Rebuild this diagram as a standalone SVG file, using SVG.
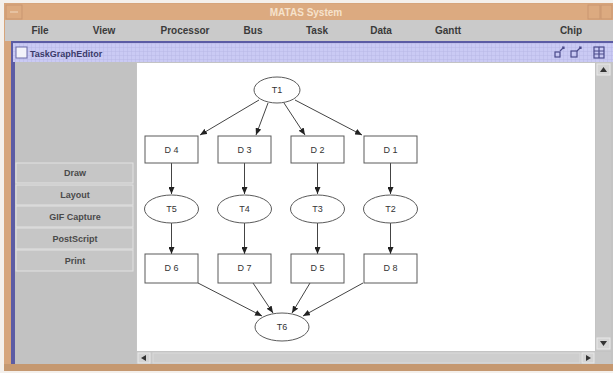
<svg xmlns="http://www.w3.org/2000/svg" width="613" height="373" viewBox="0 0 613 373">
<defs>
<style>
.menu{font-family:"Liberation Sans",Arial,sans-serif;font-size:10px;font-weight:bold;fill:#3a3a3a;text-anchor:middle}
.btn{font-family:"Liberation Sans",Arial,sans-serif;font-size:9px;font-weight:bold;fill:#4a4a4a;text-anchor:middle}
.btnbox{fill:#c6c6c6;stroke:#e2e2e2;stroke-width:1}
.node{fill:#ffffff;stroke:#5a5a5a;stroke-width:1}
.lbl{font-family:"Liberation Sans",Arial,sans-serif;font-size:9px;fill:#333;text-anchor:middle}
.edge{stroke:#444;stroke-width:1;fill:none;marker-end:url(#arr)}
</style>
<marker id="arr" markerWidth="7" markerHeight="6" refX="7" refY="3" orient="auto" markerUnits="userSpaceOnUse">
<path d="M0,0 L7,3 L0,6 Z" fill="#222"/>
</marker>
<pattern id="grid" width="4" height="4" patternUnits="userSpaceOnUse">
<rect width="4" height="4" fill="#cacaf4"/>
<path d="M4,0 V4 M0,4 H4" stroke="#b8b8e6" stroke-width="1"/>
</pattern>
</defs>
<rect width="613" height="373" fill="#f4f0ec"/>
<!-- window frame -->
<rect x="4" y="3" width="609" height="368" fill="#d6a57c"/>
<rect x="5" y="4" width="608" height="16" fill="#dcaa80"/>
<text x="306" y="16" font-family="Liberation Sans,Arial,sans-serif" font-size="10" font-weight="bold" fill="#f6e2cc" text-anchor="middle">MATAS System</text>
<rect x="6" y="5" width="16" height="14" fill="none" stroke="#c99670"/>
<line x1="10" y1="12" x2="18" y2="12" stroke="#f0d8c0"/>
<rect x="588" y="5" width="12" height="14" fill="none" stroke="#c99670"/>
<rect x="601" y="5" width="11" height="14" fill="none" stroke="#c99670"/>
<!-- menu bar -->
<rect x="5" y="20" width="608" height="21" fill="#cacaca"/>
<text class="menu" x="40" y="34">File</text>
<text class="menu" x="104" y="34">View</text>
<text class="menu" x="185" y="34">Processor</text>
<text class="menu" x="253" y="34">Bus</text>
<text class="menu" x="317" y="34">Task</text>
<text class="menu" x="381" y="34">Data</text>
<text class="menu" x="448" y="34">Gantt</text>
<text class="menu" x="571" y="34">Chip</text>
<!-- internal frame -->
<rect x="11" y="41" width="602" height="324" fill="#5c5ca4"/>
<rect x="13" y="43" width="600" height="19" fill="url(#grid)"/>
<rect x="16" y="47" width="11" height="11" fill="#f2f2fa" stroke="#6a6aa8"/>
<text x="30" y="57" font-family="Liberation Sans,Arial,sans-serif" font-size="9" font-weight="bold" fill="#3a3a6a">TaskGraphEditor</text>
<g fill="none" stroke="#4a4a8a" stroke-width="1.2">
<rect x="555" y="52" width="5" height="5"/><path d="M560,51 L564,47 M562,47 H564 V49"/>
<rect x="571" y="51" width="6" height="6"/><path d="M577,51 L581,47 M579,47 H581 V49"/>
<rect x="594" y="47" width="10" height="11"/><path d="M594,51 H604 M594,54 H604 M599,47 V58"/>
</g>
<!-- left panel -->
<rect x="15" y="62" width="598" height="303" fill="#c4c4c4"/>
<rect x="15" y="62" width="121" height="303" fill="#c2c2c2"/>
<g id="buttons">
<rect class="btnbox" x="16" y="163" width="117" height="20"/>
<text class="btn" x="75" y="176">Draw</text>
<rect class="btnbox" x="16" y="185" width="117" height="20"/>
<text class="btn" x="75" y="198">Layout</text>
<rect class="btnbox" x="16" y="206" width="117" height="21"/>
<text class="btn" x="75" y="220">GIF Capture</text>
<rect class="btnbox" x="16" y="228" width="117" height="21"/>
<text class="btn" x="75" y="242">PostScript</text>
<rect class="btnbox" x="16" y="250" width="117" height="21"/>
<text class="btn" x="75" y="264">Print</text>
</g>
<!-- canvas -->
<rect x="137" y="63" width="458" height="288" fill="#ffffff"/>
<!-- vertical scrollbar -->
<rect x="596" y="63" width="15" height="288" fill="#c8c8c8"/>
<rect x="597" y="64" width="13" height="11" fill="#d4d4d4" stroke="#e8e8e8"/>
<path d="M600,72 L603.5,67 L607,72 Z" fill="#333"/>
<rect x="597" y="338" width="13" height="11" fill="#d4d4d4" stroke="#e8e8e8"/>
<path d="M600,341 L603.5,346 L607,341 Z" fill="#333"/>
<!-- horizontal scrollbar -->
<rect x="137" y="352" width="474" height="12" fill="#c8c8c8"/>
<rect x="138" y="353" width="12" height="10" fill="#d4d4d4" stroke="#e8e8e8"/>
<path d="M146,355 L141,358 L146,361 Z" fill="#333"/>
<rect x="153" y="353" width="427" height="10" fill="#cecece" stroke="#dadada"/>
<rect x="582" y="353" width="12" height="10" fill="#d4d4d4" stroke="#e8e8e8"/>
<path d="M586,355 L591,358 L586,361 Z" fill="#333"/>
<rect x="4" y="364" width="609" height="7" fill="#c59870"/>

<g id="connectors">
<path class="edge" d="M259,100 L200,135"/>
<path class="edge" d="M268,103 L256,135"/>
<path class="edge" d="M284,103 L305,135"/>
<path class="edge" d="M295,100 L362,135"/>
<path class="edge" d="M171.5,163 V194"/>
<path class="edge" d="M244.5,163 V194"/>
<path class="edge" d="M317.5,163 V194"/>
<path class="edge" d="M390.5,163 V194"/>
<path class="edge" d="M171.5,223 V254"/>
<path class="edge" d="M244.5,223 V254"/>
<path class="edge" d="M317.5,223 V254"/>
<path class="edge" d="M390.5,223 V254"/>
<path class="edge" d="M198,283 L262,316"/>
<path class="edge" d="M253,283 L273,313"/>
<path class="edge" d="M310,283 L292,313"/>
<path class="edge" d="M363,283 L303,316"/>
</g>

<g id="T1"><ellipse class="node" cx="277" cy="90" rx="23" ry="13"/><text class="lbl" x="277" y="93">T1</text></g>
<g id="D4"><rect class="node" x="145" y="136" width="53" height="27"/><text class="lbl" x="171.5" y="153">D 4</text></g>
<g id="D3"><rect class="node" x="218" y="136" width="53" height="27"/><text class="lbl" x="244.5" y="153">D 3</text></g>
<g id="D2"><rect class="node" x="291" y="136" width="53" height="27"/><text class="lbl" x="317.5" y="153">D 2</text></g>
<g id="D1"><rect class="node" x="364" y="136" width="53" height="27"/><text class="lbl" x="390.5" y="153">D 1</text></g>
<g id="T5"><ellipse class="node" cx="171.5" cy="209" rx="27" ry="14"/><text class="lbl" x="171.5" y="212">T5</text></g>
<g id="T4"><ellipse class="node" cx="244.5" cy="209" rx="27" ry="14"/><text class="lbl" x="244.5" y="212">T4</text></g>
<g id="T3"><ellipse class="node" cx="317.5" cy="209" rx="27" ry="14"/><text class="lbl" x="317.5" y="212">T3</text></g>
<g id="T2"><ellipse class="node" cx="390.5" cy="209" rx="27" ry="14"/><text class="lbl" x="390.5" y="212">T2</text></g>
<g id="D6"><rect class="node" x="145" y="254" width="53" height="29"/><text class="lbl" x="171.5" y="271">D 6</text></g>
<g id="D7"><rect class="node" x="218" y="254" width="53" height="29"/><text class="lbl" x="244.5" y="271">D 7</text></g>
<g id="D5"><rect class="node" x="291" y="254" width="53" height="29"/><text class="lbl" x="317.5" y="271">D 5</text></g>
<g id="D8"><rect class="node" x="364" y="254" width="53" height="29"/><text class="lbl" x="390.5" y="271">D 8</text></g>
<g id="T6"><ellipse class="node" cx="282" cy="327" rx="27" ry="14"/><text class="lbl" x="282" y="330">T6</text></g>
</svg>
